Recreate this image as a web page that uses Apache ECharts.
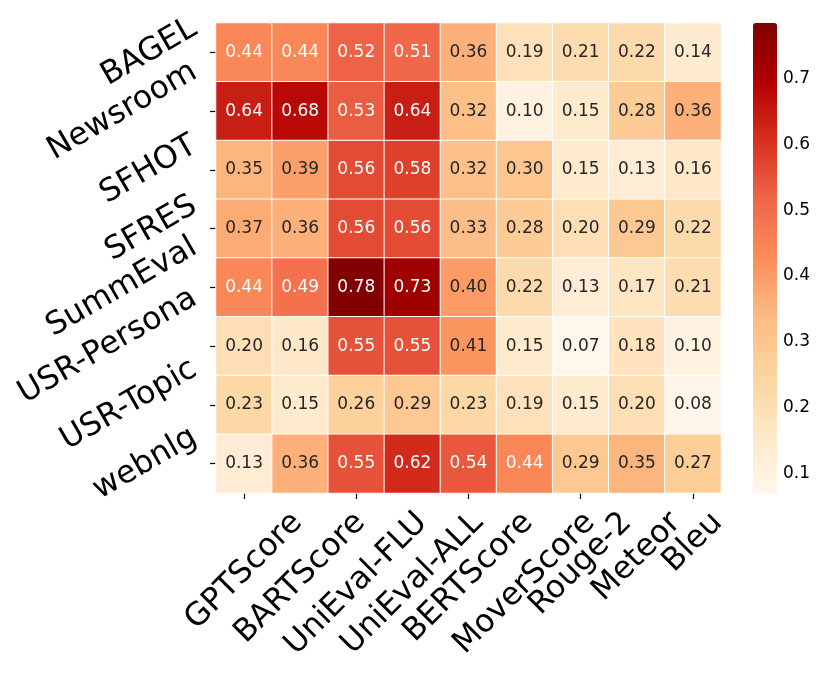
<!DOCTYPE html>
<html>
<head>
<meta charset="utf-8">
<script src="https://cdn.jsdelivr.net/npm/echarts@6/dist/echarts.min.js"></script>
<style>
    html, body { margin: 0; padding: 0; background: #fff; }
    #main { width: 830px; height: 675px; }
</style>
</head>
<body>
<div id="main"></div>
<script>
// rows / columns of the heatmap
var datasets = ['BAGEL', 'Newsroom', 'SFHOT', 'SFRES', 'SummEval', 'USR-Persona', 'USR-Topic', 'webnlg'];
var metrics = ['GPTScore', 'BARTScore', 'UniEval-FLU', 'UniEval-ALL', 'BERTScore', 'MoverScore', 'Rouge-2', 'Meteor', 'Bleu'];

// one row per dataset, same order as metrics
var scores = [
    [0.44, 0.44, 0.52, 0.51, 0.36, 0.19, 0.21, 0.22, 0.14],
    [0.64, 0.68, 0.53, 0.64, 0.32, 0.10, 0.15, 0.28, 0.36],
    [0.35, 0.39, 0.56, 0.58, 0.32, 0.30, 0.15, 0.13, 0.16],
    [0.37, 0.36, 0.56, 0.56, 0.33, 0.28, 0.20, 0.29, 0.22],
    [0.44, 0.49, 0.78, 0.73, 0.40, 0.22, 0.13, 0.17, 0.21],
    [0.20, 0.16, 0.55, 0.55, 0.41, 0.15, 0.07, 0.18, 0.10],
    [0.23, 0.15, 0.26, 0.29, 0.23, 0.19, 0.15, 0.20, 0.08],
    [0.13, 0.36, 0.55, 0.62, 0.54, 0.44, 0.29, 0.35, 0.27]
];

// colorbar
var cbarTicks = [0.1, 0.2, 0.3, 0.4, 0.5, 0.6, 0.7];
var cbarMin = 0.07, cbarMax = 0.785;
var orRd = ['#fff7ec', '#fee8c8', '#fdd49e', '#fdbb84', '#fc8d59', '#ef6548', '#d7301f', '#b30000', '#7f0000'];

var FONT = 'DejaVu Sans';
var LABEL_SIZE = 31.5;

var cells = [];
scores.forEach(function (row, i) {
    row.forEach(function (v, j) {
        cells.push({
            value: [j, i, v],
            label: { color: v >= 0.425 ? '#ffffff' : '#262626' }
        });
    });
});

var chart = echarts.init(document.getElementById('main'));

chart.setOption({
    animation: false,
    grid: [
        { left: 216, top: 23, width: 505, height: 470 },
        { left: 753, top: 23, width: 24, height: 470 }
    ],
    xAxis: [{
        type: 'category',
        gridIndex: 0,
        data: metrics,
        axisLine: { show: false },
        axisTick: { show: true, alignWithLabel: true, length: 6, lineStyle: { color: '#000', width: 1.2 } },
        axisLabel: { show: false },
        splitLine: { show: false }
    }, {
        type: 'value',
        gridIndex: 1,
        show: false,
        min: 0,
        max: 1
    }],
    yAxis: [{
        type: 'category',
        gridIndex: 0,
        data: datasets,
        inverse: true,
        axisLine: { show: false },
        axisTick: { show: true, alignWithLabel: true, length: 6, lineStyle: { color: '#000', width: 1.2 } },
        axisLabel: { show: false },
        splitLine: { show: false }
    }, {
        type: 'value',
        gridIndex: 1,
        position: 'right',
        min: cbarMin,
        max: cbarMax,
        axisLine: { show: false },
        splitLine: { show: false },
        axisTick: { show: true, length: 6, customValues: cbarTicks, lineStyle: { color: '#000', width: 1.2 } },
        axisLabel: {
            customValues: cbarTicks,
            margin: 6,
            fontSize: 17,
            fontFamily: FONT,
            color: '#000',
            formatter: function (v) { return v.toFixed(1); }
        }
    }],
    visualMap: {
        type: 'continuous',
        min: cbarMin,
        max: cbarMax,
        calculable: false,
        orient: 'vertical',
        left: 753,
        top: 23,
        itemWidth: 24,
        itemHeight: 470,
        padding: 0,
        text: null,
        seriesIndex: 0,
        inRange: { color: orRd }
    },
    series: [{
        type: 'heatmap',
        xAxisIndex: 0,
        yAxisIndex: 0,
        data: cells,
        label: {
            show: true,
            fontSize: 17,
            fontFamily: FONT,
            formatter: function (p) { return p.value[2].toFixed(2); }
        },
        itemStyle: { borderColor: '#ffffff', borderWidth: 1 },
        emphasis: { disabled: true }
    }]
});

// rotated tick labels, placed like matplotlib does (box centred on tick)
var ctx = document.createElement('canvas').getContext('2d');
ctx.font = LABEL_SIZE + 'px "' + FONT + '"';
function textW(s) { return ctx.measureText(s).width; }

var p0 = chart.convertToPixel({ xAxisIndex: 0, yAxisIndex: 0 }, [0, 0]);
var p1 = chart.convertToPixel({ xAxisIndex: 0, yAxisIndex: 0 }, [1, 1]);
var cw = p1[0] - p0[0], rh = p1[1] - p0[1];
var gLeft = p0[0] - cw / 2;
var gBottom = p0[1] - rh / 2 + rh * datasets.length;
var lh = 0.97 * LABEL_SIZE, off = 14;

var labels = [];
metrics.forEach(function (m, j) {
    var w = textW(m);
    labels.push({
        type: 'text',
        x: chart.convertToPixel({ xAxisIndex: 0 }, j),
        y: gBottom + off + (w + lh) * Math.SQRT1_2 / 2,
        rotation: Math.PI / 4,
        silent: true,
        style: { text: m, fontSize: LABEL_SIZE, fontFamily: FONT, fill: '#000', align: 'center', verticalAlign: 'middle' }
    });
});
datasets.forEach(function (d, i) {
    var w = textW(d);
    labels.push({
        type: 'text',
        x: gLeft - off - (w * Math.cos(Math.PI / 6) + lh * 0.5) / 2,
        y: chart.convertToPixel({ yAxisIndex: 0 }, i),
        rotation: Math.PI / 6,
        silent: true,
        style: { text: d, fontSize: LABEL_SIZE, fontFamily: FONT, fill: '#000', align: 'center', verticalAlign: 'middle' }
    });
});
chart.setOption({ graphic: labels });
</script>
</body>
</html>
